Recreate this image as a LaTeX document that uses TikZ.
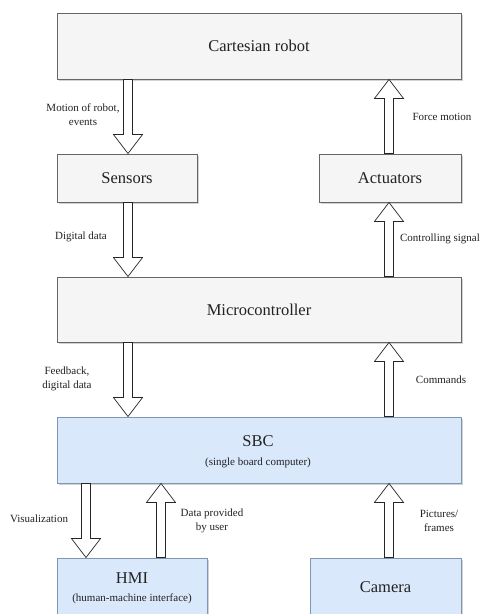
\documentclass[tikz,border=0pt]{standalone}
\usepackage{fontspec}
\setmainfont{Liberation Serif}
\usetikzlibrary{calc,shadows}
\definecolor{grayfill}{HTML}{F5F5F5}
\definecolor{grayline}{HTML}{666666}
\definecolor{bluefill}{HTML}{DAE8FC}
\definecolor{blueline}{HTML}{7F95B3}
\definecolor{txt}{HTML}{222222}
\tikzset{
  boxbase/.style={rectangle, draw, line width=0.9pt, inner sep=0pt,
    drop shadow={shadow xshift=2pt, shadow yshift=-2pt, opacity=0.35, fill=gray}},
  graybox/.style={boxbase, fill=grayfill, draw=grayline},
  bluebox/.style={boxbase, fill=bluefill, draw=blueline},
  titletext/.style={font=\fontsize{16.5}{19}\selectfont, text=txt, inner sep=0pt},
  subtext/.style={font=\fontsize{11}{14}\selectfont, text=txt, inner sep=0pt},
  lbl/.style={font=\fontsize{11}{14}\selectfont, text=txt, align=center, inner sep=0pt},
  blockarrow/.style={draw=black!85, fill=white, line width=0.7pt, line join=miter},
}
% #1 start point, #2 tip point (same x)
\newcommand{\vblockarrow}[2]{%
  \draw[blockarrow] let \p1=#1, \p2=#2, \n1={ifthenelse(\y2>\y1,1,-1)} in
    (\x1-4.5pt,\y1) -- (\x1-4.5pt,{\y2-\n1*19pt}) -- (\x1-14.5pt,{\y2-\n1*19pt})
    -- (\x1,\y2) -- (\x1+14.5pt,{\y2-\n1*19pt}) -- (\x1+4.5pt,{\y2-\n1*19pt})
    -- (\x1+4.5pt,\y1) -- cycle;}
\begin{document}
\begin{tikzpicture}[x=1pt,y=-1pt]
\clip (0,0) rectangle (482,614);
\useasboundingbox (0,0) rectangle (482,614);
\fill[white] (0,0) rectangle (482,614);
% boxes
\node[graybox, minimum width=404pt, minimum height=66pt] (robot) at (259,46) {};
\node[titletext] (robotT) at (robot.center) {Cartesian robot};
\node[graybox, minimum width=140pt, minimum height=48pt] (sensors) at (127,178) {};
\node[titletext] (sensorsT) at (sensors.center) {Sensors};
\node[graybox, minimum width=142pt, minimum height=48pt] (actuators) at (390,178) {};
\node[titletext] (actuatorsT) at (actuators.center) {Actuators};
\node[graybox, minimum width=404pt, minimum height=65pt] (micro) at (259,309.5) {};
\node[titletext] (microT) at (micro.center) {Microcontroller};
\node[bluebox, minimum width=404pt, minimum height=66pt] (sbc) at (259,450) {};
\node[titletext] (sbcT) at (258,441) {SBC};
\node[subtext] (sbcS) at (258,463) {(single board computer)};
\node[bluebox, minimum width=150pt, minimum height=70pt] (hmi) at (132,593) {};
\node[titletext] (hmiT) at (132,578) {HMI};
\node[subtext] (hmiS) at (132,599) {(human-machine interface)};
\node[bluebox, minimum width=151pt, minimum height=70pt] (camera) at (385.5,593) {};
\node[titletext] (cameraT) at (385.5,587) {Camera};
% x positions of arrows
\coordinate (xL) at (128,0);
\coordinate (xR) at (389,0);
\coordinate (xV) at (86,0);
\coordinate (xD) at (161,0);
% arrows
\vblockarrow{(robot.south -| xL)}{(sensors.north -| xL)}
\vblockarrow{(actuators.north -| xR)}{(robot.south -| xR)}
\vblockarrow{(sensors.south -| xL)}{(micro.north -| xL)}
\vblockarrow{(micro.north -| xR)}{(actuators.south -| xR)}
\vblockarrow{(micro.south -| xL)}{(sbc.north -| xL)}
\vblockarrow{(sbc.north -| xR)}{(micro.south -| xR)}
\vblockarrow{(sbc.south -| xV)}{(hmi.north -| xV)}
\vblockarrow{(hmi.north -| xD)}{(sbc.south -| xD)}
\vblockarrow{(camera.north -| xR)}{(sbc.south -| xR)}
% labels
\node[lbl] (l1) at (83,115) {Motion of robot,\\events};
\node[lbl] (l2) at (442,117) {Force motion};
\node[lbl] (l3) at (81,237) {Digital data};
\node[lbl] (l4) at (440,239) {Controlling signal};
\node[lbl] (l5) at (67,379) {Feedback,\\digital data};
\node[lbl] (l6) at (441,380) {Commands};
\node[lbl] (l7) at (39,519) {Visualization};
\node[lbl] (l8) at (212,521) {Data provided\\by user};
\node[lbl] (l9) at (439,521) {Pictures/\\frames};
\end{tikzpicture}
\end{document}
